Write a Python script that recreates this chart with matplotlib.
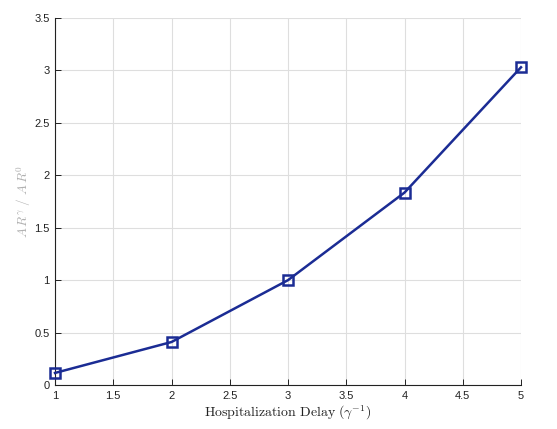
import matplotlib
matplotlib.use('Agg')
import matplotlib.pyplot as plt

delay = [1, 2, 3, 4, 5]
ratio = [0.115, 0.41, 1.0, 1.835, 3.03]
x_ticks = [1, 1.5, 2, 2.5, 3, 3.5, 4, 4.5, 5]
y_ticks = [0, 0.5, 1, 1.5, 2, 2.5, 3, 3.5]

plt.rcParams['font.family'] = 'Liberation Sans'
plt.rcParams['mathtext.fontset'] = 'cm'

fig = plt.figure(figsize=(5.57, 4.29), dpi=100)
ax = fig.add_axes([55 / 557, 44 / 429, 466 / 557, 367 / 429])

line_color = '#1b2c94'
ax.plot(delay, ratio, color=line_color, lw=1.8, marker='s', ms=7.5,
        mfc='none', mec=line_color, mew=1.8, clip_on=False, zorder=3)

ax.set_xlim(1, 5)
ax.set_ylim(0, 3.5)
ax.set_xticks(x_ticks)
ax.set_yticks(y_ticks)
ax.set_xticklabels([f'{t:g}' for t in x_ticks])
ax.set_yticklabels([f'{t:g}' for t in y_ticks])
ax.tick_params(labelsize=8, direction='in', length=4, width=0.7,
               colors='#222222', pad=4)
ax.grid(True, color='#dedede', lw=0.8)
ax.set_axisbelow(True)
for s in ['top', 'right']:
    ax.spines[s].set_visible(False)
for s in ['left', 'bottom']:
    ax.spines[s].set_linewidth(0.8)
    ax.spines[s].set_color('#222222')

ax.set_xlabel(r'$\mathrm{Hospitalization\ Delay}\ (\gamma^{-1})$',
              fontsize=10, color='#222222', labelpad=2)
ax.set_ylabel(r'$A\,R^{\gamma}\ /\ A\,R^{0}$', fontsize=9.5, color='#b0b0b0',
              labelpad=1)

fig.savefig('out.png', dpi=100)
